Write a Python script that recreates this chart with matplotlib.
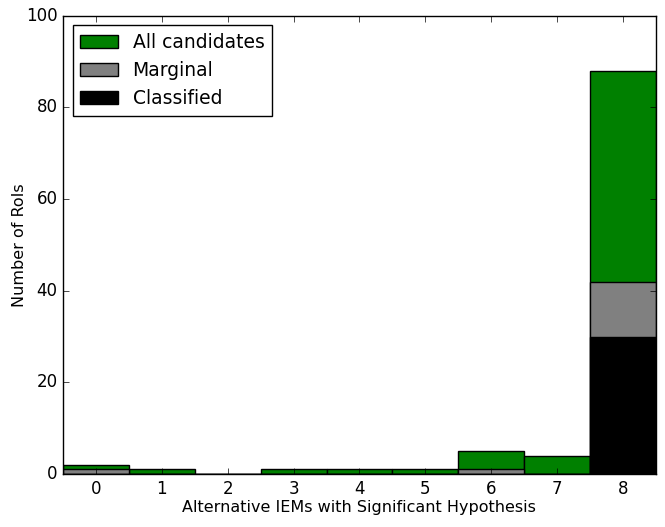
import numpy as np
import matplotlib
matplotlib.use('Agg')
import matplotlib.pyplot as plt

plt.style.use('classic')

bins = [0, 1, 2, 3, 4, 5, 6, 7, 8]
all_candidates = [2, 1, 0, 1, 1, 1, 5, 4, 88]
marginal = [1, 0, 0, 0, 0, 0, 1, 0, 42]
classified = [0, 0, 0, 0, 0, 0, 0, 0, 30]

fig = plt.figure(figsize=(6.65, 5.27), dpi=100)
ax = fig.add_axes([0.095, 0.1006, 0.891, 0.8694])

X = np.array(bins)
ax.bar(X, all_candidates, width=1.0, align='center', color='green', edgecolor='black', label='All candidates')
ax.bar(X, marginal, width=1.0, align='center', color='grey', edgecolor='black', label='Marginal')
ax.bar(X, classified, width=1.0, align='center', color='black', edgecolor='black', label='Classified')

ax.set_xlim(-0.5, 8.5)
ax.set_ylim(0, 100)
ax.set_xticks(bins)
ax.set_yticks([0, 20, 40, 60, 80, 100])
ax.set_xlabel('Alternative IEMs with Significant Hypothesis', fontsize=11.5, labelpad=2)
ax.set_ylabel('Number of RoIs', fontsize=11.5, labelpad=-1)
ax.legend(loc='upper left', fontsize=13.5)

fig.savefig('out.png', dpi=100)
